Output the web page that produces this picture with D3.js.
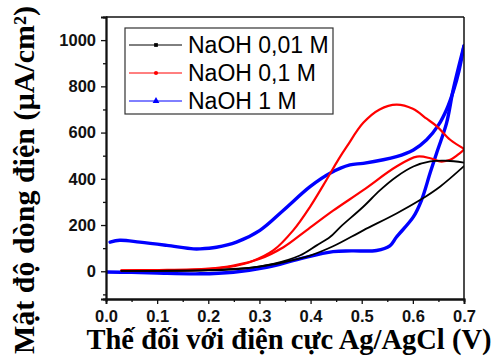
<!DOCTYPE html>
<html>
<head>
<meta charset="utf-8">
<script src="https://cdn.jsdelivr.net/npm/d3@7/dist/d3.min.js"></script>
<style>
  html, body { margin: 0; padding: 0; background: #fff; }
  svg { display: block; }
</style>
</head>
<body>
<svg id="chart" width="499" height="362"></svg>
<script>
// Cyclic voltammograms in NaOH solutions: potential (V vs Ag/AgCl) and current density (µA/cm²).
const seriesNames = ["NaOH 0,01 M", "NaOH 0,1 M", "NaOH 1 M"];
const seriesColors = ["#000000", "#ff0000", "#0000ff"];

// NaOH 0,01 M — anodic sweep
const blackFwdV = [0.03, 0.10, 0.20, 0.27, 0.327, 0.379, 0.412, 0.438, 0.458, 0.503, 0.536, 0.568, 0.601, 0.634, 0.666, 0.70];
const blackFwdI = [2, 2, 4, 12, 32, 68, 112, 148, 191, 279, 351, 409, 453, 475, 478, 470];
// NaOH 0,01 M — cathodic sweep
const blackRevV = [0.70, 0.653, 0.614, 0.568, 0.503, 0.444, 0.399, 0.347, 0.30, 0.25, 0.20, 0.10, 0.03];
const blackRevI = [455, 366, 308, 250, 177, 108, 68, 39, 20, 10, 5, 2, 2];

// NaOH 0,1 M — anodic sweep
const redFwdV = [0.03, 0.10, 0.184, 0.216, 0.25, 0.282, 0.327, 0.366, 0.399, 0.431, 0.454, 0.471, 0.503, 0.535, 0.568, 0.60, 0.627, 0.647, 0.673, 0.70];
const redFwdI = [4, 5, 6, 12, 22, 40, 90, 177, 279, 395, 482, 540, 642, 700, 721, 703, 660, 627, 569, 530];
// NaOH 0,1 M — cathodic sweep
const redRevV = [0.70, 0.692, 0.673, 0.653, 0.634, 0.608, 0.568, 0.503, 0.444, 0.392, 0.347, 0.301, 0.249, 0.20, 0.10, 0.03];
const redRevI = [527, 511, 482, 475, 489, 496, 453, 351, 262, 177, 104, 54, 25, 12, 5, 3];

// NaOH 1 M — anodic sweep
const blueFwdV = [0.0, 0.05, 0.10, 0.184, 0.249, 0.314, 0.379, 0.444, 0.48, 0.529, 0.555, 0.568, 0.601, 0.617, 0.634, 0.647, 0.666, 0.679, 0.70];
const blueFwdI = [-3, -5, -8, -11, -4, 17, 54, 85, 88, 90, 110, 148, 235, 308, 427, 515, 642, 787, 975];
// NaOH 1 M — cathodic sweep
const blueRevV = [0.70, 0.69, 0.68, 0.666, 0.65, 0.627, 0.601, 0.568, 0.503, 0.477, 0.438, 0.399, 0.347, 0.301, 0.255, 0.216, 0.184, 0.171, 0.119, 0.066, 0.027, 0.008];
const blueRevI = [975, 865, 785, 700, 632, 569, 525, 496, 467, 460, 424, 366, 264, 177, 126, 104, 97, 97, 112, 126, 134, 126];

// Axis ticks
const xMajorTicks = [0.0, 0.1, 0.2, 0.3, 0.4, 0.5, 0.6, 0.7];
const xMinorTicks = [0.05, 0.15, 0.25, 0.35, 0.45, 0.55, 0.65];
const yMajorTicks = [0, 200, 400, 600, 800, 1000];
const yMinorTicks = [-100, 100, 300, 500, 700, 900];

const xTitle = "Thế đối với điện cực Ag/AgCl (V)";
const yTitle = "Mật độ dòng điện (µA/cm²)";

const branches = [
  { s: 0, v: blackFwdV, i: blackFwdI },
  { s: 0, v: blackRevV, i: blackRevI },
  { s: 1, v: redFwdV, i: redFwdI },
  { s: 1, v: redRevV, i: redRevI },
  { s: 2, v: blueFwdV, i: blueFwdI },
  { s: 2, v: blueRevV, i: blueRevI }
];
const strokeWidths = [1.8, 2.2, 3.4];

const W = 499, H = 362;
const margin = { left: 106, top: 17, right: 35, bottom: 63 };
const pw = W - margin.left - margin.right;
const ph = H - margin.top - margin.bottom;

const svg = d3.select("#chart");
const g = svg.append("g").attr("transform", `translate(${margin.left},${margin.top})`);

const x = d3.scaleLinear().domain([0, 0.7]).range([0, pw]);
const y = d3.scaleLinear().domain([-120, 1100]).range([ph, 0]);

svg.append("defs").append("clipPath").attr("id", "plotClip")
  .append("rect").attr("x", 0).attr("y", 0).attr("width", pw).attr("height", ph);

// Curves
const line = d3.line()
  .x(d => x(d[0]))
  .y(d => y(d[1]))
  .curve(d3.curveCatmullRom.alpha(0.5));

const curves = g.append("g").attr("clip-path", "url(#plotClip)");
// blue underneath, then red, black on top
[2, 1, 0].forEach(s => {
  branches.filter(b => b.s === s).forEach(b => {
    const pts = b.v.map((v, k) => [v, b.i[k]]);
    curves.append("path")
      .attr("d", line(pts))
      .attr("fill", "none")
      .attr("stroke", seriesColors[s])
      .attr("stroke-width", strokeWidths[s])
      .attr("stroke-linejoin", "round")
      .attr("stroke-linecap", "round");
  });
});

// Frame (top and right)
g.append("line").attr("x1", 0).attr("x2", pw).attr("y1", 0).attr("y2", 0)
  .attr("stroke", "#111").attr("stroke-width", 1.5);
g.append("line").attr("x1", pw).attr("x2", pw).attr("y1", 0).attr("y2", ph)
  .attr("stroke", "#111").attr("stroke-width", 1.5);

// Axes
const tickFont = "Arial, 'Liberation Sans', sans-serif";

const xAxis = g.append("g").attr("transform", `translate(0,${ph})`)
  .call(d3.axisBottom(x).tickValues(xMajorTicks).tickFormat(d3.format(".1f")).tickSize(5).tickPadding(6));
const xMinor = g.append("g").attr("transform", `translate(0,${ph})`)
  .call(d3.axisBottom(x).tickValues(xMinorTicks).tickFormat("").tickSize(3));

const yAxis = g.append("g")
  .call(d3.axisLeft(y).tickValues(yMajorTicks).tickFormat(d3.format("d")).tickSize(5).tickPadding(5));
const yMinor = g.append("g")
  .call(d3.axisLeft(y).tickValues(yMinorTicks).tickFormat("").tickSize(3));

[xAxis, xMinor, yAxis, yMinor].forEach(a => {
  a.select(".domain").attr("stroke", "#111").attr("stroke-width", 1.8);
  a.selectAll(".tick line").attr("stroke", "#111").attr("stroke-width", 1.3);
  a.selectAll("text")
    .attr("font-family", tickFont)
    .attr("font-weight", "bold")
    .attr("font-size", 16.5)
    .attr("fill", "#111");
});

// Axis titles
const titleFont = "'Times New Roman', 'Liberation Serif', serif";
svg.append("text")
  .attr("x", 289).attr("y", 349)
  .attr("text-anchor", "middle")
  .attr("font-family", titleFont)
  .attr("font-weight", "bold")
  .attr("font-size", 28.5)
  .attr("fill", "#000")
  .text(xTitle);

svg.append("text")
  .attr("transform", "translate(34,180) rotate(-90)")
  .attr("text-anchor", "middle")
  .attr("font-family", titleFont)
  .attr("font-weight", "bold")
  .attr("font-size", 30)
  .attr("fill", "#000")
  .text(yTitle);

// Legend
const legend = svg.append("g").attr("transform", "translate(125,28)");
legend.append("rect")
  .attr("x", 0).attr("y", 0).attr("width", 208).attr("height", 86)
  .attr("fill", "#fff").attr("stroke", "#333").attr("stroke-width", 1.2);

const rowY = [17, 45, 73];
seriesNames.forEach((name, k) => {
  const row = legend.append("g").attr("transform", `translate(0,${rowY[k]})`);
  row.append("line")
    .attr("x1", 4).attr("x2", 57).attr("y1", 0).attr("y2", 0)
    .attr("stroke", seriesColors[k]).attr("stroke-width", 1);
  const sym = [d3.symbolSquare, d3.symbolCircle, d3.symbolTriangle][k];
  const size = [14, 14, 20][k];
  row.append("path")
    .attr("transform", "translate(31,0)")
    .attr("d", d3.symbol().type(sym).size(size)())
    .attr("fill", seriesColors[k]);
  row.append("text")
    .attr("x", 63).attr("y", 8)
    .attr("font-family", tickFont)
    .attr("font-size", 23)
    .attr("fill", "#000")
    .text(name);
});
</script>
</body>
</html>
